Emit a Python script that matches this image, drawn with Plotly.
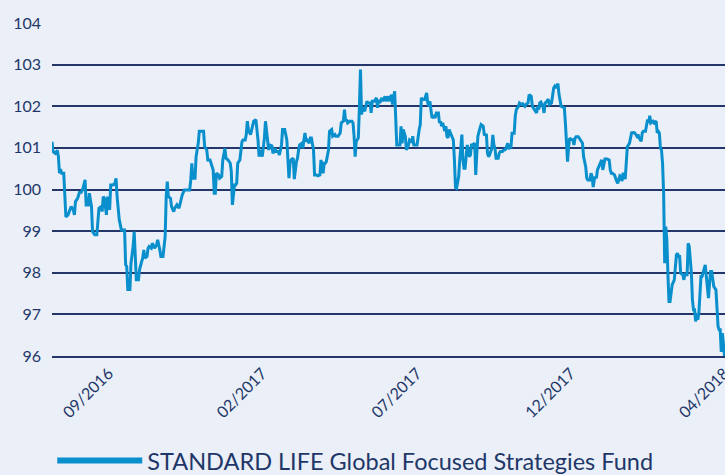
import pandas as pd
import plotly.graph_objects as go

start_date = "2016-08-05"
day_offset = [0, 1, 3, 5, 6, 7, 8, 9, 11, 12, 13, 15, 17, 18, 20, 21, 22, 24, 26, 27, 29, 31, 32, 34, 35, 37, 38, 40, 42, 44,
              46, 47, 48, 49, 51, 52, 53, 54, 55, 57, 59, 60, 61, 63, 65, 68, 69, 70, 71, 73, 74, 76, 77, 78, 79, 81, 82, 84, 85, 86,
              87, 89, 90, 91, 93, 94, 96, 98, 99, 101, 102, 104, 106, 107, 108, 109, 111, 112, 114, 115, 117, 119, 120, 121, 122, 124, 126, 129, 130, 131,
              132, 134, 135, 137, 138, 142, 143, 145, 146, 148, 149, 151, 152, 153, 154, 156, 157, 159, 160, 162, 163, 165, 167, 168, 169, 171, 172, 173, 174, 176,
              178, 179, 181, 182, 183, 184, 186, 188, 189, 191, 192, 193, 194, 195, 197, 198, 199, 200, 202, 203, 204, 206, 207, 209, 210, 212, 213, 215, 216, 218,
              220, 221, 222, 223, 224, 226, 227, 229, 230, 231, 232, 234, 235, 236, 237, 238, 239, 241, 242, 243, 245, 246, 248, 249, 251, 252, 254, 255, 256, 257,
              259, 260, 262, 263, 265, 266, 268, 270, 271, 273, 274, 275, 276, 277, 279, 281, 282, 283, 284, 285, 287, 288, 289, 290, 291, 293, 295, 296, 298, 299,
              300, 301, 302, 304, 305, 306, 307, 309, 310, 312, 313, 315, 316, 318, 319, 321, 322, 323, 324, 326, 327, 328, 329, 331, 332, 334, 335, 337, 338, 339,
              341, 342, 344, 345, 346, 347, 349, 350, 351, 352, 353, 354, 355, 356, 358, 359, 360, 362, 363, 364, 365, 366, 368, 369, 370, 371, 372, 374, 376, 377,
              378, 379, 381, 382, 384, 385, 386, 387, 388, 389, 391, 392, 393, 394, 396, 397, 398, 399, 401, 402, 404, 405, 407, 408, 409, 410, 412, 413, 414, 415,
              416, 418, 419, 420, 422, 423, 424, 425, 427, 428, 429, 430, 431, 433, 434, 435, 437, 438, 440, 441, 443, 444, 446, 447, 449, 450, 452, 454, 455, 456,
              457, 458, 460, 461, 462, 463, 465, 466, 468, 469, 470, 471, 472, 474, 475, 477, 479, 480, 481, 482, 483, 484, 485, 486, 488, 489, 490, 491, 493, 494,
              496, 497, 498, 500, 501, 502, 504, 505, 506, 507, 508, 509, 510, 511, 513, 515, 516, 517, 518, 520, 522, 523, 524, 525, 527, 529, 530, 532, 533, 534,
              535, 537, 538, 539, 541, 542, 543, 545, 546, 548, 549, 550, 552, 553, 554, 556, 557, 558, 559, 560, 561, 563, 564, 566, 567, 568, 569, 570, 571, 572,
              573, 574, 575, 576, 577, 578, 579, 580, 581, 583, 584, 585, 586, 587, 588, 589, 591, 592, 593, 594, 595, 596, 597, 599, 600, 601, 602, 603, 604, 605,
              606, 607, 608, 609, 611, 612, 613, 614, 615, 616, 617, 618, 619, 620, 622, 623, 624, 625, 626, 627, 628, 629, 630]

fund_value = [101.15, 100.91, 100.87, 100.94, 100.79, 100.39, 100.49, 100.39, 100.39, 99.83, 99.34, 99.39, 99.55, 99.59, 99.51, 99.39, 99.71, 99.79, 99.95, 99.91, 100.03, 100.23, 99.63, 99.63, 99.91, 99.59, 98.99, 98.91, 98.91, 99.55,
              99.59, 99.47, 99.83, 99.79, 99.39, 99.83, 99.75, 99.51, 100.11, 100.11, 100.15, 100.27, 99.83, 99.27, 99.03, 99.03, 98.19, 98.15, 97.60, 97.60, 98.23, 98.63, 98.99, 98.39, 97.83, 97.83, 98.07, 98.27, 98.35, 98.55,
              98.35, 98.39, 98.59, 98.63, 98.59, 98.71, 98.59, 98.67, 98.79, 98.55, 98.39, 98.39, 98.87, 99.83, 100.19, 99.83, 99.79, 99.59, 99.47, 99.55, 99.63, 99.55, 99.67, 99.75, 99.87, 99.99, 99.99, 99.99, 100.23, 100.63,
              100.27, 100.27, 100.79, 101.11, 101.40, 101.40, 101.03, 100.95, 100.71, 100.71, 100.63, 100.47, 99.91, 99.91, 100.39, 100.35, 100.27, 100.31, 100.71, 100.99, 100.75, 100.71, 100.63, 100.43, 99.63, 100.11, 100.11, 100.15, 100.63, 100.71,
              101.15, 101.19, 101.19, 101.32, 101.64, 101.44, 101.32, 101.56, 101.64, 101.68, 101.44, 101.19, 100.79, 100.95, 100.79, 100.99, 101.24, 101.64, 101.07, 100.95, 101.07, 101.05, 100.87, 100.99, 100.91, 100.91, 100.83, 101.07, 101.44, 101.44,
              101.19, 100.71, 100.27, 100.63, 100.71, 100.75, 100.25, 100.67, 100.75, 100.95, 101.07, 101.11, 100.99, 101.19, 101.36, 101.15, 101.19, 101.11, 101.24, 101.24, 100.95, 100.35, 100.35, 100.33, 100.35, 100.71, 100.39, 100.63, 100.63, 100.67,
              100.95, 101.40, 101.44, 101.28, 101.32, 101.28, 101.28, 101.36, 101.60, 101.64, 101.92, 101.64, 101.68, 101.60, 101.64, 101.64, 101.60, 101.28, 100.79, 101.15, 101.24, 102.00, 102.88, 101.80, 101.96, 101.88, 102.12, 102.08, 102.08, 101.84,
              102.12, 102.12, 102.12, 102.20, 101.96, 102.16, 102.08, 102.20, 102.12, 102.24, 102.12, 102.24, 102.12, 102.28, 102.04, 102.36, 101.72, 101.07, 101.07, 101.07, 101.52, 101.11, 101.44, 101.28, 100.95, 101.07, 101.19, 101.15, 101.28, 101.07,
              101.07, 101.07, 101.44, 101.56, 102.20, 102.16, 102.16, 102.24, 102.32, 102.08, 102.00, 102.12, 101.84, 101.72, 101.76, 101.72, 101.84, 101.84, 101.60, 101.64, 101.52, 101.60, 101.40, 101.52, 101.28, 101.24, 101.44, 101.32, 101.19, 100.71,
              100.05, 100.03, 100.31, 100.71, 101.32, 100.71, 100.51, 100.51, 100.79, 101.07, 100.79, 100.83, 101.07, 101.07, 101.11, 100.35, 100.87, 101.28, 101.48, 101.56, 101.52, 101.32, 101.31, 100.87, 100.79, 100.83, 100.99, 101.31, 101.07, 100.99,
              100.75, 100.75, 100.87, 100.91, 100.91, 100.95, 100.95, 100.97, 101.11, 100.97, 101.02, 101.02, 101.35, 101.35, 101.76, 101.92, 102.00, 102.08, 102.04, 102.06, 102.00, 102.04, 102.08, 102.28, 102.24, 102.00, 101.92, 101.84, 102.00, 101.92,
              102.08, 102.10, 102.00, 101.84, 102.08, 102.10, 102.17, 102.04, 102.08, 102.32, 102.44, 102.48, 102.44, 102.54, 102.28, 102.00, 101.97, 101.96, 101.59, 101.19, 100.67, 101.03, 101.23, 101.21, 101.19, 101.07, 101.23, 101.27, 101.27, 101.23,
              101.15, 101.11, 100.79, 100.55, 100.27, 100.23, 100.23, 100.39, 100.31, 100.06, 100.23, 100.31, 100.27, 100.47, 100.59, 100.71, 100.47, 100.59, 100.73, 100.73, 100.71, 100.47, 100.39, 100.39, 100.35, 100.20, 100.15, 100.33, 100.31, 100.20,
              100.40, 100.25, 100.71, 101.03, 101.11, 101.24, 101.36, 101.37, 101.36, 101.28, 101.32, 101.24, 101.16, 101.36, 101.40, 101.40, 101.52, 101.68, 101.60, 101.77, 101.60, 101.64, 101.60, 101.64, 101.36, 101.40, 101.36, 100.99, 100.95, 100.63,
              99.91, 98.23, 99.11, 98.79, 97.99, 97.31, 97.31, 97.59, 97.71, 97.83, 98.23, 98.43, 98.47, 98.39, 98.39, 97.99, 97.95, 97.83, 97.99, 97.95, 97.95, 98.71, 98.63, 97.99, 97.35, 97.11, 97.11, 96.83, 97.03, 96.87,
              97.03, 97.51, 97.91, 97.91, 98.07, 98.19, 97.91, 97.67, 97.39, 97.75, 98.03, 98.03, 97.83, 97.67, 97.59, 97.03, 96.71, 96.63, 96.63, 96.10, 96.55, 96.30, 96.00]

tick_dates = ["2016-09-27", "2017-02-18", "2017-07-13", "2017-12-04", "2018-04-27"]
tick_labels = ["09/2016", "02/2017", "07/2017", "12/2017", "04/2018"]
y_ticks = [96, 97, 98, 99, 100, 101, 102, 103, 104]
series_name = "STANDARD LIFE Global Focused Strategies Fund"

dates = pd.Timestamp(start_date) + pd.to_timedelta(day_offset, unit="D")

LINE = "#0a8fcd"
NAVY = "#1f3768"
GRID = "#24366a"
BG = "#eaeff8"

fig = go.Figure()
fig.add_trace(go.Scatter(x=dates, y=fund_value, mode="lines",
                         line=dict(color=LINE, width=3), showlegend=False,
                         hoverinfo="skip"))
fig.add_trace(go.Scatter(x=[None], y=[None], mode="lines", name=series_name,
                         line=dict(color=LINE, width=6), showlegend=True))

fig.update_layout(
    width=725, height=475,
    margin=dict(l=52, r=0, t=23, b=119, autoexpand=False),
    paper_bgcolor=BG, plot_bgcolor=BG,
    font=dict(family="Lato", color=NAVY, size=16),
    showlegend=True,
    legend=dict(orientation="h", xref="container", yref="container",
                x=0.49, xanchor="center", y=0.03, yanchor="middle",
                font=dict(size=23.5, color=NAVY), itemwidth=85,
                bgcolor="rgba(0,0,0,0)"),
)
fig.update_xaxes(
    range=[pd.Timestamp(start_date), pd.Timestamp(tick_dates[-1]) + pd.Timedelta(hours=12)],
    tickvals=pd.to_datetime(tick_dates), ticktext=tick_labels,
    tickangle=-45, showgrid=False, zeroline=False, automargin=False,
    showline=True, linecolor=GRID, linewidth=1.5,
    ticks="", tickfont=dict(size=16, color=NAVY), ticklabeloverflow="allow",
)
fig.update_yaxes(
    range=[96, 104], tickvals=y_ticks, showgrid=True, gridcolor=GRID, gridwidth=1.5,
    zeroline=False, showline=False, ticks="", ticklabelstandoff=10, automargin=False,
    tickfont=dict(size=16, color=NAVY),
)

fig.write_html("out.html", config={"displayModeBar": False},
               post_script="document.body.style.margin='0';document.body.style.overflow='hidden';")
